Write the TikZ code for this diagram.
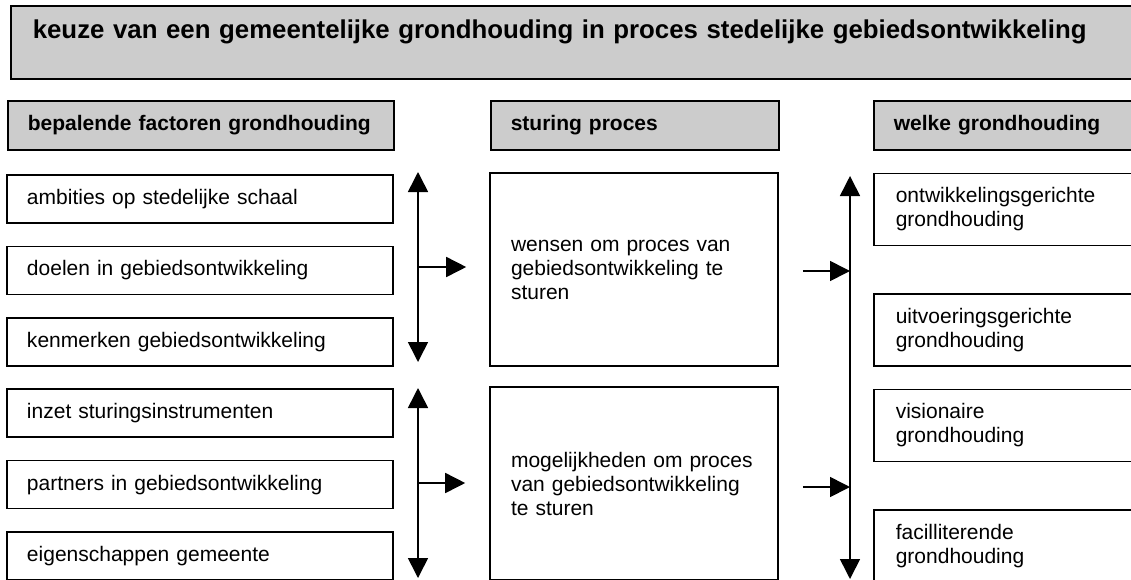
\documentclass[tikz,border=0pt]{standalone}
\usepackage{fontspec}
\setmainfont{Liberation Sans}
\usetikzlibrary{arrows.meta}

\begin{document}
\begin{tikzpicture}[x=1pt,y=-1pt]

% definitions
\tikzstyle{maintitle} = [rectangle, anchor=north west, minimum height=73pt, text width=1110pt, inner xsep=22pt, inner ysep=0pt, align=left, draw=black, fill=gray!40, line width=1.6pt, font=\fontsize{25.8}{30}\selectfont\bfseries]

\tikzstyle{heading} = [rectangle, anchor=west, minimum height=49pt, inner xsep=20pt, inner ysep=0pt, align=left, draw=black, fill=gray!40, line width=1.6pt, font=\fontsize{21}{24}\selectfont\bfseries]

\tikzstyle{factor} = [rectangle, minimum height=48pt, text width=346pt, inner xsep=20pt, inner ysep=0pt, align=left, draw=black, fill=white, line width=1.6pt, font=\fontsize{21}{24}\selectfont]

\tikzstyle{steering} = [rectangle, minimum height=193pt, text width=246pt, inner xsep=21pt, inner ysep=0pt, align=left, draw=black, fill=white, line width=1.6pt, font=\fontsize{21}{24}\selectfont]

\tikzstyle{attitude} = [rectangle, anchor=west, minimum height=72pt, text width=300pt, inner xsep=22pt, inner ysep=0pt, align=left, draw=black, fill=white, line width=1.6pt, font=\fontsize{21}{24}\selectfont]

\tikzstyle{arrow} = [-{Triangle[length=20pt,width=20pt]}, line width=1.6pt]
\tikzstyle{twoway} = [{Triangle[length=20pt,width=20pt]}-{Triangle[length=20pt,width=20pt]}, line width=1.6pt]

\useasboundingbox (0,0) rectangle (1131,579);

% the graph
\node (title) [maintitle] at (10,5) {keuze van een gemeentelijke grondhouding in proces stedelijke gebiedsontwikkeling\\[-4pt]~};

\node (h1) [heading, text width=346pt] at (7,125.5) {bepalende factoren grondhouding};
\node (h2) [heading, text width=248pt] at (490,125.5) {sturing proces};
\node (h3) [heading, text width=300pt] at (873,125.5) {welke grondhouding};

\node (f1) [factor] at (200,199) {ambities op stedelijke schaal};
\node (f2) [factor, below of=f1, node distance=71.4pt] {doelen in gebiedsontwikkeling};
\node (f3) [factor, below of=f2, node distance=71.4pt] {kenmerken gebiedsontwikkeling};
\node (f4) [factor, below of=f3, node distance=71.4pt] {inzet sturingsinstrumenten};
\node (f5) [factor, below of=f4, node distance=71.4pt] {partners in gebiedsontwikkeling};
\node (f6) [factor, below of=f5, node distance=71.4pt] {eigenschappen gemeente};

\node (s1) [steering] at (634,269.5) {wensen om proces van\\gebiedsontwikkeling te\\sturen};
\node (s2) [steering, below of=s1, node distance=214pt] {mogelijkheden om proces\\van gebiedsontwikkeling\\te sturen};

\node (g1) [attitude] at (873,209.5) {ontwikkelingsgerichte\\grondhouding};
\node (g2) [attitude] at (873,330) {uitvoeringsgerichte\\grondhouding};
\node (g3) [attitude] at (873,425.5) {visionaire\\grondhouding};
\node (g4) [attitude] at (873,546) {facilliterende\\grondhouding};

\coordinate (a1top) at (418,172);
\coordinate (a1bot) at (418,362);
\coordinate (a1mid) at (418,267);
\coordinate (a2top) at (418,388);
\coordinate (a2bot) at (418,578);
\coordinate (a2mid) at (418,483);
\coordinate (rtop) at (850,176);
\coordinate (rbot) at (850,579);
\coordinate (r1) at (850,271);
\coordinate (r2) at (850,487);

\draw [twoway] (a1top) -- (a1bot);
\draw [twoway] (a2top) -- (a2bot);
\draw [twoway] (rtop) -- (rbot);
\draw [arrow, shorten >=23pt] (a1mid) -- (a1mid -| s1.west);
\draw [arrow, shorten >=24pt] (a2mid) -- (a2mid -| s2.west);
\draw [arrow, shorten <=24pt] (s1.east |- r1) -- (r1);
\draw [arrow, shorten <=24pt] (s2.east |- r2) -- (r2);

\end{tikzpicture}
\end{document}
